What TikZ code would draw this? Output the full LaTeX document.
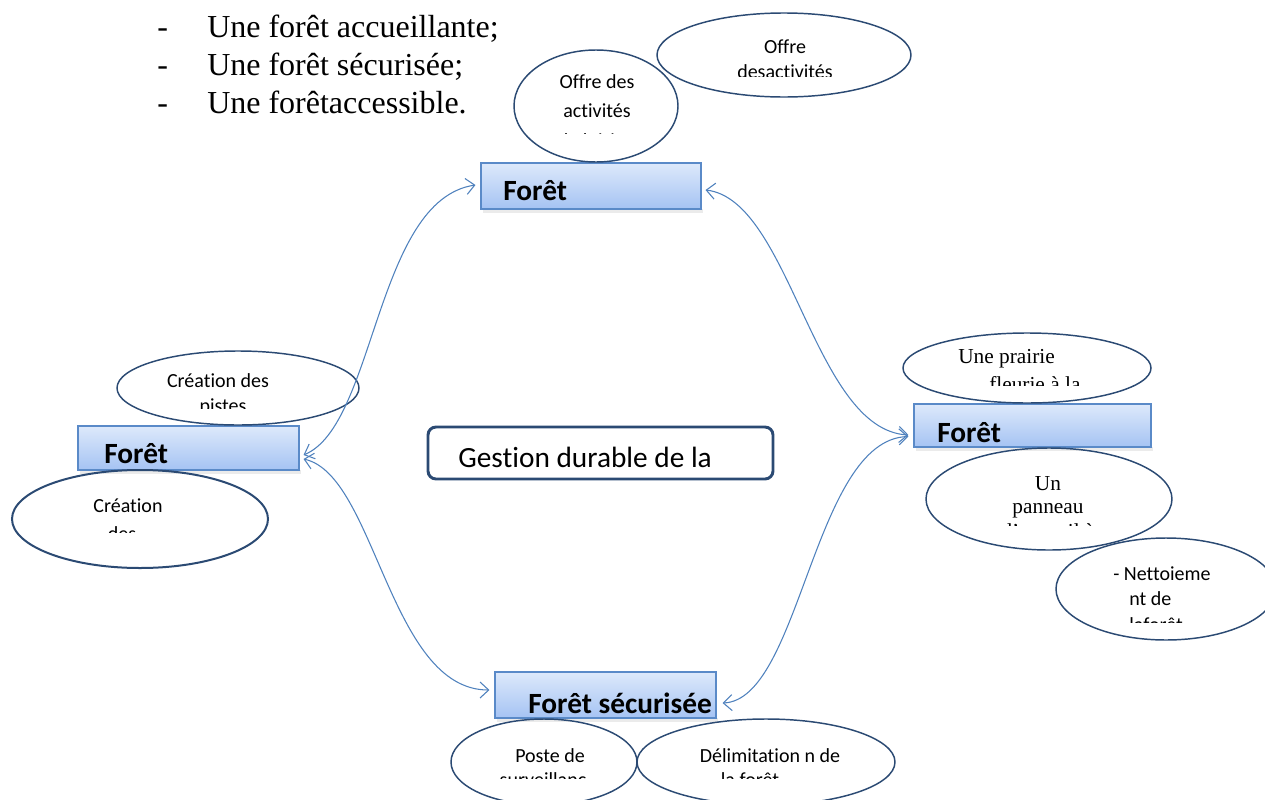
\documentclass[tikz,border=0pt]{standalone}
\usepackage{fontspec}
\setmainfont{Liberation Serif}
\newfontfamily\calib[Ligatures=CommonOff]{Carlito}
\usetikzlibrary{shapes.geometric,arrows.meta,calc}
\definecolor{navy}{HTML}{2B4A73}
\definecolor{arrblue}{HTML}{4F81BD}
\definecolor{boxtop}{HTML}{DDE9FB}
\definecolor{boxbot}{HTML}{A5C3F3}
\definecolor{boxline}{HTML}{5A8AC8}
\begin{document}
\begin{tikzpicture}[x=0.75pt,y=-0.75pt,
 ell/.style={ellipse, draw=navy, line width=1.1pt, inner sep=0pt},
 fbox/.style={rectangle, draw=boxline, line width=0.8pt, top color=boxtop, bottom color=boxbot, inner sep=0pt},
 lbl/.style={font=\calib\fontsize{22}{26}\selectfont\bfseries, anchor=base west, inner sep=0pt},
 etxt/.style={font=\calib\fontsize{15}{18}\selectfont, anchor=base, inner sep=0pt},
 etxtw/.style={font=\calib\fontsize{15}{18}\selectfont, anchor=base west, inner sep=0pt},
 ttxt/.style={font=\fontsize{16}{19}\selectfont, anchor=base, inner sep=0pt},
 ttxtw/.style={font=\fontsize{16}{19}\selectfont, anchor=base west, inner sep=0pt},
 listtxt/.style={font=\fontsize{24}{28}\selectfont, anchor=base west, inner sep=0pt},
 arr/.style={draw=arrblue, line width=0.8pt, {Straight Barb[length=6.5pt,width=12pt]}-{Straight Barb[length=6.5pt,width=12pt]}},
 shad/.style={fill=black!8, draw=none}
]
\useasboundingbox (0,0) rectangle (1265,800);

% list at top
\node[listtxt] (d1) at (157,37) {-};
\node[listtxt] (d2) at (157,75) {-};
\node[listtxt] (d3) at (157,113) {-};
\node[listtxt] (l1) at (207,37) {Une forêt accueillante;};
\node[listtxt] (l2) at (207,75) {Une forêt sécurisée;};
\node[listtxt] (l3) at (207,113) {Une forêtaccessible.};

% shadows
\fill[shad] (483,209) rectangle (703,213);
\fill[shad] (80,470) rectangle (301,474);
\fill[shad] (916,447) rectangle (1153,451);
\fill[shad] (497,718) rectangle (718,722);

% boxes
\node[fbox, minimum width=220*0.75pt, minimum height=46*0.75pt] (ftop) at (591,186) {};
\node[fbox, minimum width=221*0.75pt, minimum height=44*0.75pt] (fleft) at (188.5,448) {};
\node[fbox, minimum width=237*0.75pt, minimum height=43*0.75pt] (fright) at (1032.5,425.5) {};
\node[fbox, minimum width=221*0.75pt, minimum height=46*0.75pt] (fbot) at (605.5,695) {};
\node[lbl] (tTop) at (503,200) {Forêt};
\node[lbl] (tLeft) at (104,463) {Forêt};
\node[lbl] (tRight) at (937,442) {Forêt};
\node[lbl] (tBot) at (528,713) {Forêt sécurisée};

% centre box
\node[rectangle, rounded corners=6pt, draw=navy, line width=2.2pt, minimum width=345*0.75pt, minimum height=52*0.75pt] (centre) at (600.5,453) {};
\node[font=\calib\fontsize{22}{26}\selectfont, anchor=base west, inner sep=0pt] (tCentre) at (458,467) {Gestion durable de la};

% ellipses
\node[ell, minimum width=164*0.75pt, minimum height=112*0.75pt] (e1) at (596,106) {};
\node[ell, minimum width=254*0.75pt, minimum height=84*0.75pt] (e2) at (784,55) {};
\node[ell, minimum width=242*0.75pt, minimum height=74*0.75pt] (e3) at (238,388) {};
\node[ell, line width=1.5pt, minimum width=256*0.75pt, minimum height=98*0.75pt] (e4) at (140,519) {};
\node[ell, minimum width=248*0.75pt, minimum height=70*0.75pt] (e5) at (1027,368) {};
\node[ell, minimum width=246*0.75pt, minimum height=102*0.75pt] (e6) at (1049,499) {};
\node[ell, minimum width=220*0.75pt, minimum height=102*0.75pt] (e7) at (1166,589) {};
\node[ell, minimum width=186*0.75pt, minimum height=86*0.75pt] (e8) at (544,762) {};
\node[ell, minimum width=258*0.75pt, minimum height=86*0.75pt] (e9) at (766,762) {};

% ellipse texts
\node[etxt] (e1a) at (597,88) {Offre des};
\node[etxt] (e1b) at (597,117) {activités};
\begin{scope}
\clip (520,120) rectangle (670,133.5);
\node[etxt] (e1c) at (590,147) {de loisir};
\end{scope}

\node[etxt] (e2a) at (785,53) {Offre};
\begin{scope}
\clip (680,58) rectangle (890,76);
\node[etxt] (e2b) at (785,78) {desactivités};
\end{scope}

\node[etxt] (e3a) at (218,387) {Création des};
\begin{scope}
\clip (150,392) rectangle (320,408);
\node[etxt] (e3b) at (223,412) {pistes};
\end{scope}

\node[etxt] (e4a) at (128,512) {Création};
\begin{scope}
\clip (60,516) rectangle (200,532);
\node[etxt] (e4b) at (122,540) {des};
\end{scope}

\node[ttxtw] (e5a) at (958,363) {Une prairie};
\begin{scope}
\clip (940,368) rectangle (1120,385);
\node[ttxtw] (e5b) at (989,391) {fleurie à la};
\end{scope}

\node[ttxt] (e6a) at (1048,490) {Un};
\node[ttxt] (e6b) at (1048,513) {panneau};
\begin{scope}
\clip (960,518) rectangle (1140,525.5);
\node[ttxt] (e6c) at (1048,538) {d’accueil à};
\end{scope}

\node[etxtw] (e7a) at (1113,580) {- Nettoieme};
\node[etxtw] (e7b) at (1129,605) {nt de};
\begin{scope}
\clip (1100,608) rectangle (1240,622.5);
\node[etxtw] (e7c) at (1129,631) {laforêt};
\end{scope}

\node[etxt] (e8a) at (550,762) {Poste de};
\begin{scope}
\clip (470,766) rectangle (625,778);
\node[etxt] (e8b) at (543,786) {surveillanc};
\end{scope}

\node[etxt] (e9a) at (770,762) {Délimitation n de};
\begin{scope}
\clip (660,766) rectangle (880,778);
\node[etxt] (e9b) at (750,786) {la forêt};
\end{scope}

% connectors
\draw[arr] ($(fleft.east)+(4,7)$) .. controls +(72,-30) and +(-100,15) .. ($(ftop.west)+(-5,-1)$);
\draw[arr] ($(ftop.east)+(4,4)$) .. controls +(85,10) and +(-95,-5) .. ($(fright.west)+(-5,9.5)$);
\draw[arr] ($(fleft.east)+(4,11)$) .. controls +(72,16) and +(-100,0) .. ($(fbot.west)+(-5,-5)$);
\draw[arr] ($(fbot.east)+(6,8)$) .. controls +(78,-3) and +(-95,3) .. ($(fright.west)+(-5,11)$);
\end{tikzpicture}
\end{document}
